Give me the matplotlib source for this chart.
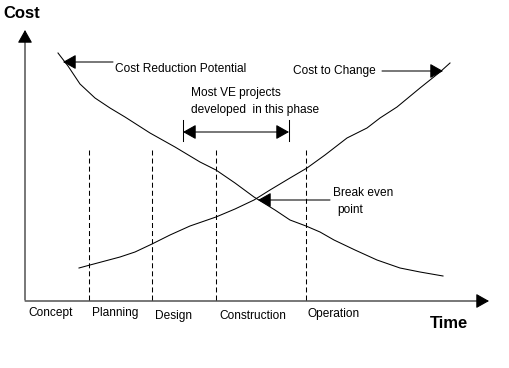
import matplotlib
matplotlib.use("Agg")
import matplotlib.pyplot as plt

plt.rcParams['font.family'] = ['Liberation Sans', 'DejaVu Sans']
plt.rcParams['lines.scale_dashes'] = False

# curve values (time units along x, cost units up y)
change_time = [54, 65, 80, 95, 110, 127, 145, 165, 191, 210, 229, 245, 265, 282,
               300, 322, 342, 355, 372, 395, 415, 425]
change_cost = [32, 35, 39, 43, 48, 56, 65, 74, 83, 91, 100, 110, 122, 132,
               145, 162, 172, 182, 193, 212, 228, 237]

reduction_time = [33, 43, 55, 70, 85, 100, 125, 150, 175, 191, 210, 229, 250, 265,
                  281, 295, 309, 330, 352, 375, 395, 418]
reduction_cost = [247, 234, 216, 202, 192, 183, 167, 153, 138, 130, 117, 103, 90, 80,
                  74, 68, 60, 50, 40, 32, 28, 24]

phase_bounds = [64, 127, 191, 281]
phase_names = ['Concept', 'Planning', 'Design', 'Construction', 'Operation']
phase_label_x = [3, 67, 130, 194, 283]
phase_label_y = [-13, -13, -16, -16, -14]

fs = 8.6

fig = plt.figure(figsize=(5.09, 3.68), dpi=100)
ax = fig.add_axes([0, 0, 1, 1])
ax.set_xlim(-25, 484)
ax.set_ylim(-68, 300)
ax.axis('off')

lw = 0.75
head = '-|>,head_length=0.8,head_width=0.45'

# axes with arrow heads
ax.annotate('', xy=(0, 270), xytext=(0, 0),
            arrowprops=dict(arrowstyle=head, color='black', lw=lw,
                            mutation_scale=10, shrinkA=0, shrinkB=0))
ax.annotate('', xy=(464, -1), xytext=(0, -1),
            arrowprops=dict(arrowstyle=head, color='black', lw=lw,
                            mutation_scale=10, shrinkA=0, shrinkB=0))
ax.text(-22, 287, 'Cost', fontsize=12, fontweight='bold', va='center', ha='left')
ax.text(405, -23, 'Time', fontsize=12, fontweight='bold', va='center', ha='left')

# curves
ax.plot(change_time, change_cost, color='black', lw=lw)
ax.plot(reduction_time, reduction_cost, color='black', lw=lw)

# phase boundaries
for b in phase_bounds:
    ax.plot([b, b], [0, 150], color='black', lw=lw, dashes=(3.6, 2.2))
for name, x, y in zip(phase_names, phase_label_x, phase_label_y):
    ax.text(x, y, name, fontsize=fs, va='center', ha='left')

# annotations
ax.annotate('', xy=(38, 238), xytext=(88, 238),
            arrowprops=dict(arrowstyle=head, color='black', lw=lw,
                            mutation_scale=10, shrinkA=0, shrinkB=0))
ax.text(90, 231, 'Cost Reduction Potential', fontsize=fs, va='center', ha='left')

ax.annotate('', xy=(418, 229), xytext=(357, 229),
            arrowprops=dict(arrowstyle=head, color='black', lw=lw,
                            mutation_scale=10, shrinkA=0, shrinkB=0))
ax.text(268, 229, 'Cost to Change', fontsize=fs, va='center', ha='left')

ax.text(166, 207, 'Most VE projects', fontsize=fs, va='center', ha='left')
ax.text(166, 190, 'developed  in this phase', fontsize=fs, va='center', ha='left')
ax.annotate('', xy=(158, 168), xytext=(264, 168),
            arrowprops=dict(arrowstyle='<|-|>,head_length=0.8,head_width=0.45',
                            color='black', lw=lw, mutation_scale=10,
                            shrinkA=0, shrinkB=0))
for bx in [158, 264]:
    ax.plot([bx, bx], [159, 180], color='black', lw=lw)

ax.annotate('', xy=(233, 100), xytext=(305, 100),
            arrowprops=dict(arrowstyle=head, color='black', lw=lw,
                            mutation_scale=10, shrinkA=0, shrinkB=0))
ax.text(308, 107, 'Break even', fontsize=fs, va='center', ha='left')
ax.text(312, 90, 'point', fontsize=fs, va='center', ha='left')

fig.savefig('out.png', dpi=100, facecolor='white')
